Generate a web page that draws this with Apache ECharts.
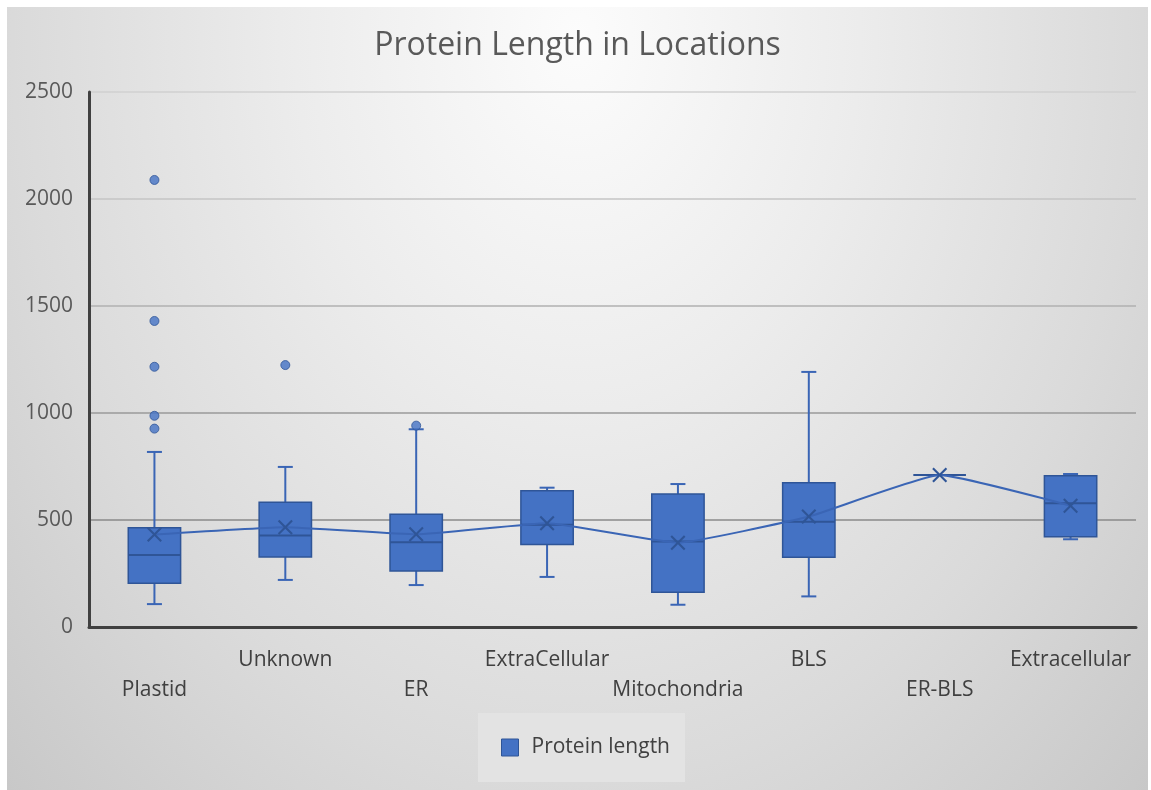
<!DOCTYPE html>
<html>
<head>
<meta charset="utf-8">
<script src="https://cdn.jsdelivr.net/npm/echarts@6/dist/echarts.min.js"></script>
<style>
html,body{margin:0;padding:0;background:#ffffff;width:1151px;height:790px;overflow:hidden;}
#chart{position:absolute;left:7px;top:7px;width:1141px;height:783px;
background:radial-gradient(ellipse at 50% 4%, #fcfcfc 0%, #ececec 35%, #dadada 70%, #c8c8c8 100%);}
</style>
</head>
<body>
<div id="chart"></div>
<script>
const categories = ['Plastid','Unknown','ER','ExtraCellular','Mitochondria','BLS','ER-BLS','Extracellular'];
const mins    = [107, 220, 196, 234, 104, 143, 710, 410];
const q1s     = [204, 327, 262, 386, 162, 326, 710, 422];
const medians = [336, 427, 396, 478, 400, 492, 710, 578];
const q3s     = [464, 583, 527, 637, 621, 674, 710, 707];
const maxs    = [818, 748, 924, 651, 668, 1192, 710, 715];
const means   = [432, 466, 433, 485, 394, 516, 710, 567];
const outlierCats   = [0, 0, 0, 0, 0, 1, 2];
const outlierValues = [2089, 1430, 1216, 987, 927, 1224, 941];
const yTicks = [0, 500, 1000, 1500, 2000, 2500];

const boxData = categories.map((c, i) => [i, mins[i], q1s[i], medians[i], q3s[i], maxs[i]]);
const outlierData = outlierCats.map((c, i) => [c, outlierValues[i]]);

const BLUE = '#4472C4';
const DARK = '#2F5597';
const xPath = 'path://M0,1 L1,0 L5,4 L9,0 L10,1 L6,5 L10,9 L9,10 L5,6 L1,10 L0,9 L4,5 Z';

const chart = echarts.init(document.getElementById('chart'), null, {renderer: 'canvas'});
chart.setOption({
  backgroundColor: 'transparent',
  animation: false,
  title: {
    text: 'Protein Length in Locations',
    left: 'center',
    top: 18,
    textStyle: {fontFamily: 'Open Sans', fontSize: 32, fontWeight: 'normal', color: '#595959'}
  },
  legend: {
    left: 471,
    top: 706,
    backgroundColor: '#e3e3e3',
    padding: [24, 15, 24, 23],
    itemWidth: 17,
    itemHeight: 17,
    data: [{name: 'Protein length', icon: 'rect', itemStyle: {color: BLUE, borderColor: DARK, borderWidth: 1}}],
    textStyle: {fontFamily: 'Open Sans', fontSize: 21, color: '#404040', padding: [0, 0, 0, 8]}
  },
  grid: {left: 82, top: 85, width: 1047, height: 535, containLabel: false},
  xAxis: {
    type: 'category',
    data: categories,
    boundaryGap: true,
    axisLine: {show: true, lineStyle: {color: '#404040', width: 3}},
    axisTick: {show: false},
    splitLine: {show: false},
    axisLabel: {
      interval: 0,
      margin: 18,
      fontFamily: 'Open Sans',
      fontSize: 21,
      color: '#404040',
      lineHeight: 30,
      formatter: (v, i) => (i % 2 === 0 ? '\n' + v : v)
    }
  },
  yAxis: {
    type: 'value',
    min: yTicks[0],
    max: yTicks[yTicks.length - 1],
    interval: 500,
    axisLine: {show: true, lineStyle: {color: '#404040', width: 3}},
    axisTick: {show: false},
    axisLabel: {margin: 16, fontFamily: 'Open Sans', fontSize: 21, color: '#595959', formatter: v => String(v)},
    splitLine: {show: true, lineStyle: {width: 1.5, color: ['#8a8a8a', '#8a8a8a', '#9a9a9a', '#b0b0b0', '#c4c4c4', '#d0d0d0']}}
  },
  series: [
    {
      name: 'Protein length',
      type: 'custom',
      data: boxData,
      encode: {x: 0, y: [1, 2, 3, 4, 5]},
      itemStyle: {color: BLUE},
      z: 2,
      renderItem: function (params, api) {
        const i = api.value(0);
        const pMin = api.coord([i, api.value(1)]);
        const pQ1 = api.coord([i, api.value(2)]);
        const pMed = api.coord([i, api.value(3)]);
        const pQ3 = api.coord([i, api.value(4)]);
        const pMax = api.coord([i, api.value(5)]);
        const bw = api.size([1, 0])[0] * 0.4;
        const cap = 15;
        const x = pMed[0];
        const lineStyle = {stroke: '#3A65B5', lineWidth: 2};
        return {
          type: 'group',
          children: [
            {type: 'line', shape: {x1: x, y1: pQ3[1], x2: x, y2: pMax[1]}, style: lineStyle},
            {type: 'line', shape: {x1: x, y1: pQ1[1], x2: x, y2: pMin[1]}, style: lineStyle},
            {type: 'line', shape: {x1: x - cap / 2, y1: pMax[1], x2: x + cap / 2, y2: pMax[1]}, style: lineStyle},
            {type: 'line', shape: {x1: x - cap / 2, y1: pMin[1], x2: x + cap / 2, y2: pMin[1]}, style: lineStyle},
            {type: 'rect', shape: {x: x - bw / 2, y: pQ3[1], width: bw, height: pQ1[1] - pQ3[1]},
              style: {fill: BLUE, stroke: DARK, lineWidth: 1.5}},
            {type: 'line', shape: {x1: x - bw / 2, y1: pMed[1], x2: x + bw / 2, y2: pMed[1]},
              style: {stroke: DARK, lineWidth: 2}}
          ]
        };
      }
    },
    {
      name: 'Mean',
      type: 'line',
      data: means,
      smooth: 0.12,
      symbol: xPath,
      symbolSize: 15,
      z: 5,
      lineStyle: {color: '#3A65B5', width: 2},
      itemStyle: {color: DARK}
    },
    {
      name: 'Outliers',
      type: 'scatter',
      data: outlierData,
      symbol: 'circle',
      symbolSize: 9,
      z: 6,
      itemStyle: {color: BLUE, borderColor: DARK, borderWidth: 1}
    }
  ]
});
</script>
</body>
</html>
